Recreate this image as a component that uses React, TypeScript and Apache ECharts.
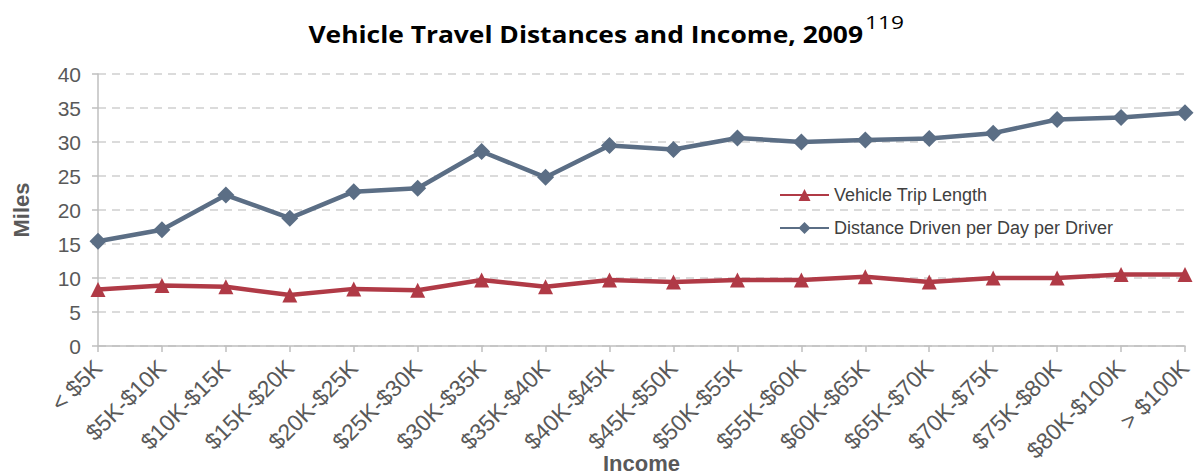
import React, { useEffect, useRef } from "react";
import * as echarts from "echarts";

const categories = [
  "< $5K", "$5K-$10K", "$10K-$15K", "$15K-$20K", "$20K-$25K", "$25K-$30K",
  "$30K-$35K", "$35K-$40K", "$40K-$45K", "$45K-$50K", "$50K-$55K", "$55K-$60K",
  "$60K-$65K", "$65K-$70K", "$70K-$75K", "$75K-$80K", "$80K-$100K", "> $100K",
];
const tripLength = [8.3, 8.9, 8.7, 7.5, 8.4, 8.2, 9.7, 8.7, 9.7, 9.4, 9.7, 9.7, 10.2, 9.4, 10.0, 10.0, 10.5, 10.5];
const distancePerDriver = [15.4, 17.1, 22.2, 18.8, 22.7, 23.2, 28.6, 24.8, 29.5, 28.9, 30.6, 30.0, 30.3, 30.5, 31.3, 33.3, 33.6, 34.3];
const seriesNames = ["Vehicle Trip Length", "Distance Driven per Day per Driver"];
const titleText = "Vehicle Travel Distances and Income, 2009";
const titleNote = "119";

const RED = "#B03A46";
const BLUE = "#5B6E85";
const AXIS_TEXT = "#595959";
const FONT = "'Liberation Sans', Arial, sans-serif";
const TITLE_FONT = "bold 24px 'Open Sans', sans-serif";
const NOTE_FONT = "18px 'Open Sans', sans-serif";

function measure(text: string, font: string): number {
  const c = document.createElement("canvas").getContext("2d");
  if (!c) return 0;
  c.font = font;
  return c.measureText(text).width;
}

export default function App() {
  const ref = useRef<HTMLDivElement>(null);
  useEffect(() => {
    document.body.style.margin = "0";
    const chart = echarts.init(ref.current!, null, { renderer: "svg" });
    const titleW = measure(titleText, TITLE_FONT) || 555;
    const noteW = measure(titleNote, NOTE_FONT) || 39;
    const titleScale = 555 / titleW;
    const noteScale = 39 / noteW;
    chart.setOption({
      animation: false,
      backgroundColor: "#ffffff",
      textStyle: { fontFamily: FONT },
      graphic: [
        {
          type: "text",
          x: 863,
          y: 33,
          scaleX: titleScale,
          style: {
            text: titleText,
            font: TITLE_FONT,
            fill: "#000000",
            textAlign: "right",
            textVerticalAlign: "middle",
          },
        },
        {
          type: "text",
          x: 865,
          y: 22,
          scaleX: noteScale,
          style: {
            text: titleNote,
            font: NOTE_FONT,
            fill: "#000000",
            textAlign: "left",
            textVerticalAlign: "middle",
          },
        },
      ],
      legend: {
        orient: "vertical",
        left: 779,
        top: 186,
        padding: 0,
        itemWidth: 49,
        itemHeight: 15,
        itemGap: 15,
        data: seriesNames,
        textStyle: { fontFamily: FONT, fontSize: 18, color: "#404040" },
      },
      grid: { left: 98, right: 9, top: 74, bottom: 128, containLabel: false, outerBoundsMode: "none" },
      xAxis: {
        type: "category",
        data: categories,
        boundaryGap: false,
        name: "Income",
        nameLocation: "middle",
        nameGap: 106,
        nameMoveOverlap: false,
        nameTextStyle: { fontFamily: FONT, fontSize: 22, fontWeight: "bold", color: AXIS_TEXT },
        axisLine: { lineStyle: { color: "#BFBFBF", width: 1.5 } },
        axisTick: { show: true, alignWithLabel: true, length: 6, lineStyle: { color: "#BFBFBF", width: 1.5 } },
        axisLabel: { rotate: 45, fontSize: 23, color: AXIS_TEXT, margin: 18, interval: 0, fontFamily: FONT, hideOverlap: false },
        splitLine: { show: false },
      },
      yAxis: {
        type: "value",
        min: 0,
        max: 40,
        interval: 5,
        name: "Miles",
        nameLocation: "middle",
        nameGap: 66,
        nameRotate: 90,
        nameMoveOverlap: false,
        nameTextStyle: { fontFamily: FONT, fontSize: 22, fontWeight: "bold", color: AXIS_TEXT },
        axisLine: { show: true, lineStyle: { color: "#BFBFBF", width: 1.5 } },
        axisTick: { show: true, length: 6, lineStyle: { color: "#BFBFBF", width: 1.5 } },
        axisLabel: { fontSize: 21, color: AXIS_TEXT, margin: 17, fontFamily: FONT },
        splitLine: { show: true, lineStyle: { color: "#D0D0D0", width: 1.5, type: [8, 6] } },
      },
      series: [
        {
          name: seriesNames[0],
          type: "line",
          data: tripLength,
          symbol: "triangle",
          symbolSize: 15,
          lineStyle: { color: RED, width: 4.5 },
          itemStyle: { color: RED },
          z: 3,
        },
        {
          name: seriesNames[1],
          type: "line",
          data: distancePerDriver,
          symbol: "diamond",
          symbolSize: 17,
          lineStyle: { color: BLUE, width: 4.5 },
          itemStyle: { color: BLUE },
          z: 3,
        },
      ],
    });
    return () => chart.dispose();
  }, []);
  return <div ref={ref} style={{ width: 1194, height: 474, position: "absolute", left: 0, top: 0 }} />;
}
